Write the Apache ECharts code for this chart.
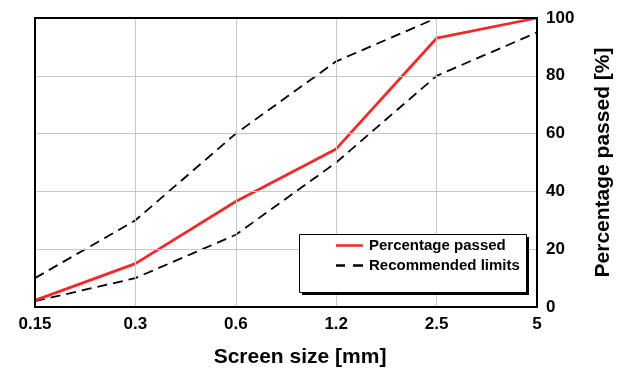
<!DOCTYPE html>
<html><head><meta charset="utf-8">
<script src="https://cdn.jsdelivr.net/npm/echarts@6/dist/echarts.min.js"></script>
<style>html,body{margin:0;padding:0;background:#fff}#c{width:619px;height:368px}</style>
</head><body><div id="c"></div>
<script>
const categories = ['0.15', '0.3', '0.6', '1.2', '2.5', '5'];
const passed = [2.3, 15, 36.5, 54.7, 93, 100];
const upperLimit = [10, 30, 60, 85, 100, 100];
const lowerLimit = [2, 10, 25, 50, 80, 95];
const yTicks = [0, 20, 40, 60, 80, 100];

const font = 'Liberation Sans, Arial, sans-serif';
const red = '#ee2a2a';
const chart = echarts.init(document.getElementById('c'), null, {renderer: 'canvas'});
const frameAxis = () => ({show: true, onZero: false, lineStyle: {color: '#000', width: 2}});
chart.setOption({
  animation: false,
  textStyle: {fontFamily: font},
  grid: {left: 35, right: 82, top: 18, bottom: 61, containLabel: false, outerBoundsMode: 'none'},
  graphic: [
    {type: 'rect', shape: {x: 302, y: 237, width: 227, height: 58}, style: {fill: '#000'}, z: 20},
    {type: 'rect', shape: {x: 299.5, y: 234.5, width: 227, height: 58}, style: {fill: '#fff', stroke: '#000', lineWidth: 1}, z: 21}
  ],
  legend: {
    data: [
      {name: 'Percentage passed', icon: 'path://M0,0H27V3H0Z'},
      {name: 'Recommended limits', icon: 'path://M0,0H9V2H0Z M17,0H27V2H17Z'}
    ],
    orient: 'vertical',
    left: 299, top: 234, z: 30,
    padding: [4, 9, 20, 37],
    itemGap: 5,
    itemWidth: 27, itemHeight: 2.5,
    symbolKeepAspect: false,
    textStyle: {fontFamily: font, fontWeight: 'bold', fontSize: 15, color: '#000', padding: [0, 0, 0, 1]}
  },
  xAxis: [{
    type: 'category', data: categories, boundaryGap: false,
    axisLine: frameAxis(), z: 10,
    axisTick: {show: false},
    axisLabel: {fontFamily: font, fontWeight: 'bold', fontSize: 17, color: '#000', margin: 9},
    splitLine: {show: true, lineStyle: {color: '#c8c8c8', width: 1}},
    name: 'Screen size [mm]', nameLocation: 'middle', nameGap: 40,
    nameTextStyle: {fontFamily: font, fontWeight: 'bold', fontSize: 21, color: '#000', padding: [0, 0, 0, 28]}
  }, {
    type: 'category', data: categories, boundaryGap: false, position: 'top',
    axisLine: frameAxis(), z: 10, axisTick: {show: false}, axisLabel: {show: false}, splitLine: {show: false}
  }],
  yAxis: [{
    type: 'value', position: 'right', min: 0, max: 100, interval: 20,
    axisLine: frameAxis(), z: 10,
    axisTick: {show: false},
    axisLabel: {fontFamily: font, fontWeight: 'bold', fontSize: 17, color: '#000', margin: 9,
      formatter: v => yTicks.includes(v) ? String(v) : ''},
    splitLine: {show: true, lineStyle: {color: '#c8c8c8', width: 1}},
    name: 'Percentage passed [%]', nameLocation: 'middle', nameGap: 56, nameRotate: 90,
    nameTextStyle: {fontFamily: font, fontWeight: 'bold', fontSize: 21, color: '#000'}
  }, {
    type: 'value', position: 'left', min: 0, max: 100, interval: 20,
    axisLine: frameAxis(), z: 10, axisTick: {show: false}, axisLabel: {show: false}, splitLine: {show: false}
  }],
  series: [
    {name: 'Recommended limits', type: 'line', data: upperLimit, symbol: 'none',
      lineStyle: {color: '#000', width: 1.8, type: [10, 6]}, itemStyle: {color: '#000'}, z: 2},
    {name: 'Recommended limits', type: 'line', data: lowerLimit, symbol: 'none',
      lineStyle: {color: '#000', width: 1.8, type: [10, 6]}, itemStyle: {color: '#000'}, z: 2},
    {name: 'Percentage passed', type: 'line', data: passed, symbol: 'none',
      lineStyle: {color: red, width: 2.8}, itemStyle: {color: red}, z: 3}
  ]
});
</script></body></html>
